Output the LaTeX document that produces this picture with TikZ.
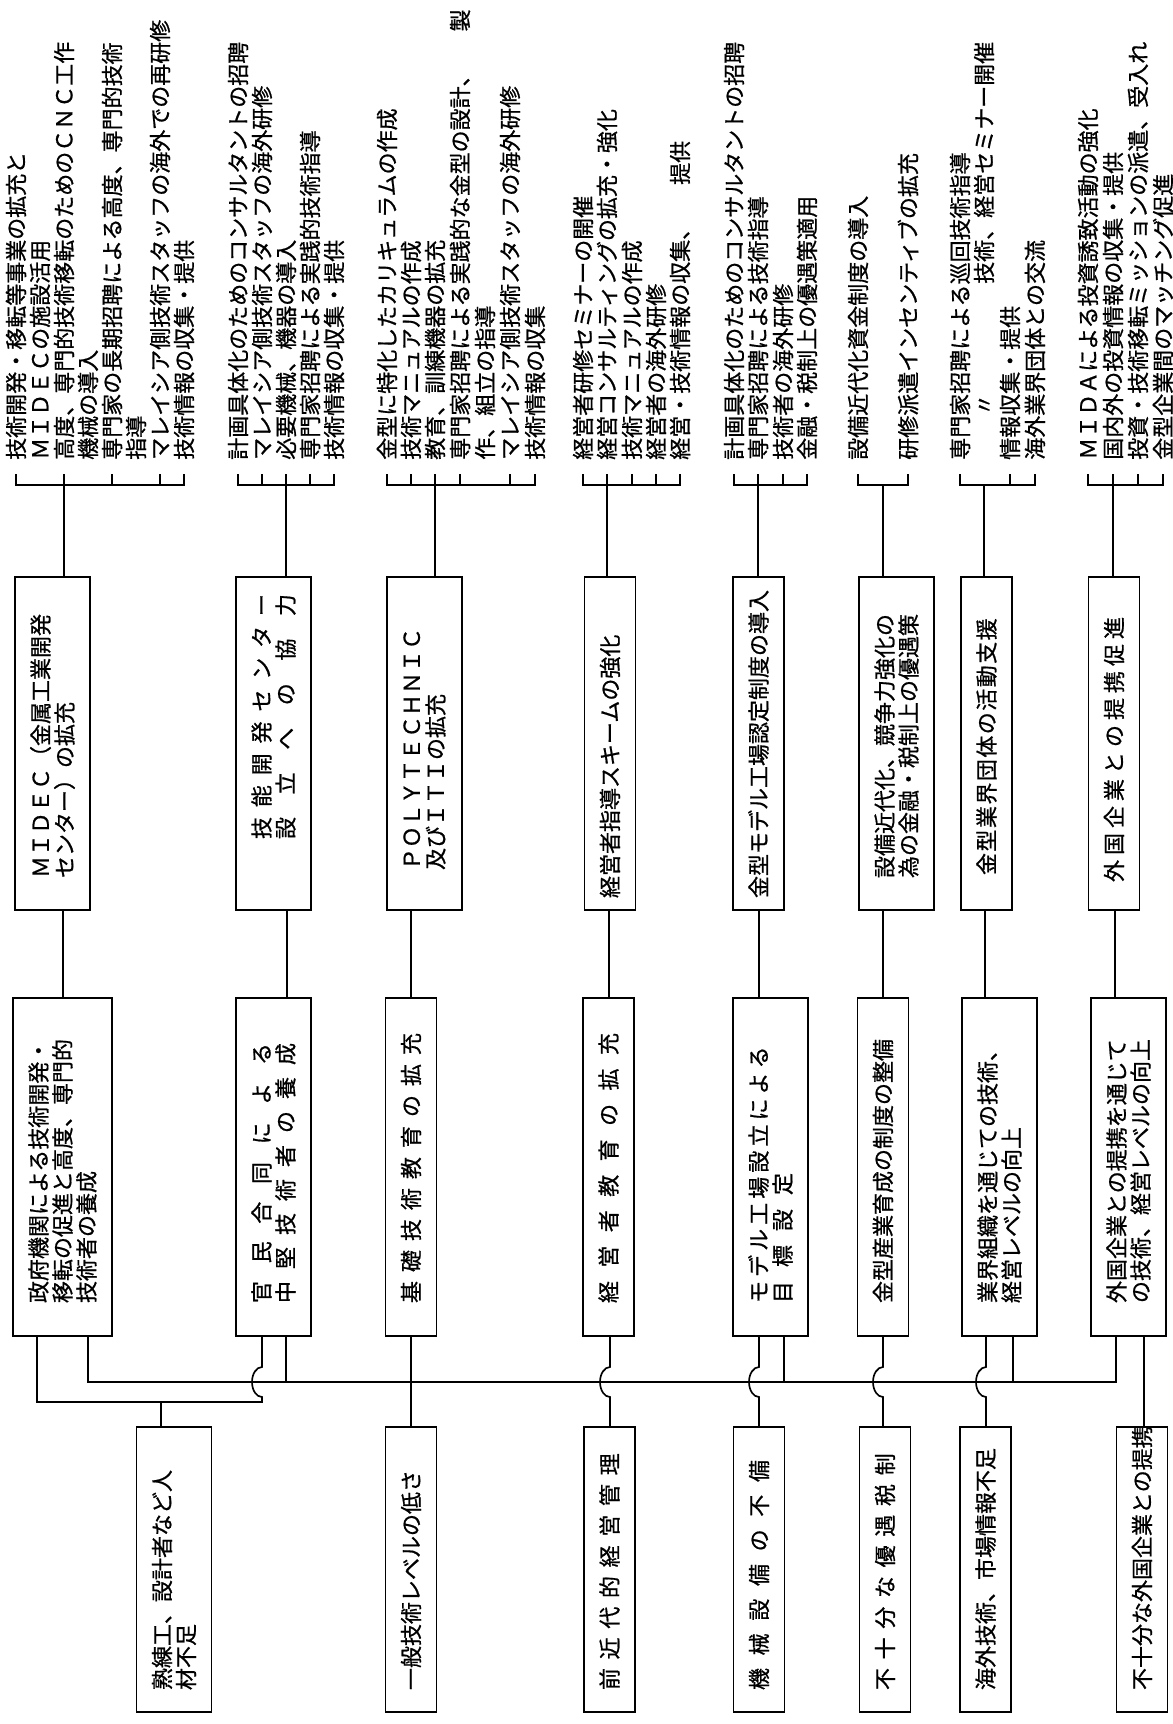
\documentclass[tikz,border=0pt]{standalone}
\usepackage{fontspec}
\setmainfont{Noto Sans CJK JP}[FakeBold=0.8]
\usetikzlibrary{calc}
\newcommand{\boxfont}{\fontsize{6.6mm}{7.2mm}\selectfont\lineskiplimit=-100mm\relax}
\newcommand{\spread}[2]{\makebox[#1][s]{\spaceskip=0pt plus 1fil\relax #2}}

\begin{document}
\begin{tikzpicture}[x=0.3mm, y=-0.3mm,
  box/.style={draw, line width=0.5mm, fill=white, rotate=90, align=left, inner ysep=0pt, font=\boxfont},
  tbox/.style={box, inner xsep=3.6mm, text width=92.7mm},
  mbox/.style={box, inner xsep=9.9mm, text width=81.6mm},
  pbox/.style={box, inner xsep=6.6mm, text width=72.3mm},
  one/.style={minimum height=15.3mm},
  two/.style={minimum height=22.5mm},
  three/.style={minimum height=29.7mm},
  itm/.style={rotate=90, anchor=west, inner sep=0pt, font=\boxfont},
  link/.style={line width=0.5mm},
]
\fill[white] (0,0) rectangle (1173,1724);
\useasboundingbox (0,0) rectangle (1173,1724);

% measures
\node[tbox, two] (T1) at (52.5,743.5) {\hspace*{6mm}ＭＩＤＥＣ（金属工業開発\\\hspace*{6mm}センター）の拡充};
\node[tbox, two] (T2) at (273.5,743.5) {\hspace*{17.7mm}\spread{73.5mm}{技 能 開 発 セ ン タ ー}\\\hspace*{17.7mm}\spread{73.5mm}{設 立 へ の 協 力}};
\node[tbox, two] (T3) at (424.5,743.5) {\hspace*{8.4mm}ＰＯＬＹＴＥＣＨＮＩＣ\\\hspace*{8.4mm}及びＩＴＩの拡充};
\node[tbox, one] (T4) at (610,743.5) {経営者指導スキームの強化};
\node[tbox, one] (T5) at (758.5,743.5) {金型モデル工場認定制度の導入};
\node[tbox, two] (T6) at (896.5,743.5) {\hspace*{6mm}設備近代化、競争力強化の\\\hspace*{6mm}為の金融・税制上の優遇策};
\node[tbox, one] (T7) at (986.5,743.5) {\hspace*{6.9mm}\spread{77mm}{金 型 業 界 団 体 の 活 動 支 援}};
\node[tbox, one] (T8) at (1114,743.5) {\hspace*{4.8mm}\spread{79.5mm}{外 国 企 業 と の 提 携 促 進}};

% objectives
\node[mbox, three] (M1) at (62.5,1167) {政府機関による技術開発・\\移転の促進と高度、専門的\\技術者の養成};
\node[mbox, two] (M2) at (273.5,1167) {\spread{78mm}{官 民 合 同 に よ る}\\\spread{78mm}{中 堅 技 術 者 の 養 成}};
\node[mbox, one] (M3) at (411,1167) {\spread{81mm}{基 礎 技 術 教 育 の 拡 充}};
\node[mbox, one] (M4) at (608.5,1167) {\spread{81mm}{経 営 者 教 育 の 拡 充}};
\node[mbox, two] (M5) at (770.5,1167) {\spread{77mm}{モ デ ル 工 場 設 立 に よ る}\\\spread{39mm}{目 標 設 定}};
\node[mbox, one] (M6) at (883,1167) {金型産業育成の制度の整備};
\node[mbox, two] (M7) at (999.5,1167) {業界組織を通じての技術、\\経営レベルの向上};
\node[mbox, two] (M8) at (1128.5,1167) {外国企業との提携を通じて\\の技術、経営レベルの向上};

% problems
\node[pbox, two] (P1) at (174,1569.5) {熟練工、設計者など人\\材不足};
\node[pbox, one] (P2) at (411,1569.5) {一般技術レベルの低さ};
\node[pbox, one] (P3) at (609.5,1569.5) {\spread{71mm}{前 近 代 的 経 営 管 理}};
\node[pbox, one] (P4) at (759,1569.5) {\spread{69mm}{機 械 設 備 の 不 備}};
\node[pbox, one] (P5) at (885,1569.5) {\spread{71mm}{不 十 分 な 優 遇 税 制}};
\node[pbox, one] (P6) at (985.5,1569.5) {海外技術、市場情報不足};
\node[pbox, one] (P7) at (1142,1569.5) {不十分な外国企業との提携};

% action lists
\foreach \n/\x/\t in {a/16/{技術開発・移転等事業の拡充と}, b/40/{ＭＩＤＥＣの施設活用}, c/64/{高度、専門的技術移転のためのＣＮＣ工作}, d/88/{機械の導入}, e/112/{専門家の長期招聘による高度、専門的技術}, f/136/{指導}, g/160/{マレイシア側技術スタッフの海外での再研修}, h/184/{技術情報の収集・提供}}
  \node[itm] (l1\n) at (\x,460) {\t};
\foreach \n/\x/\t in {a/238/{計画具体化のためのコンサルタントの招聘}, b/262/{マレイシア側技術スタッフの海外研修}, c/286/{必要機械、機器の導入}, d/310/{専門家招聘による実践的技術指導}, e/334/{技術情報の収集・提供}}
  \node[itm] (l2\n) at (\x,460) {\t};
\foreach \n/\x/\t in {a/387/{金型に特化したカリキュラムの作成}, b/411/{技術マニュアルの作成}, c/435/{教育、訓練機器の拡充}, d/460/{専門家招聘による実践的な金型の設計、\hspace*{1.5em}製}, e/485/{作、組立の指導}, f/510/{マレイシア側技術スタッフの海外研修}, g/535/{技術情報の収集}}
  \node[itm] (l3\n) at (\x,460) {\t};
\foreach \n/\x/\t in {a/583/{経営者研修セミナーの開催}, b/607/{経営コンサルティングの拡充・強化}, c/632/{技術マニュアルの作成}, d/656/{経営者の海外研修}, e/680/{経営・技術情報の収集、\hspace*{1.5em}提供}}
  \node[itm] (l4\n) at (\x,460) {\t};
\foreach \n/\x/\t in {a/734/{計画具体化のためのコンサルタントの招聘}, b/758/{専門家招聘による技術指導}, c/783/{技術者の海外研修}, d/807/{金融・税制上の優遇策適用}}
  \node[itm] (l5\n) at (\x,460) {\t};
\foreach \n/\x/\t in {a/858/{設備近代化資金制度の導入}, b/908/{研修派遣インセンティブの拡充}}
  \node[itm] (l6\n) at (\x,460) {\t};
\foreach \n/\x/\t in {a/960/{専門家招聘による巡回技術指導}, b/984/{\hspace*{2em}〃\hspace*{5em}技術、経営セミナー開催}, c/1010/{情報収集・提供}, d/1035/{海外業界団体との交流}}
  \node[itm] (l7\n) at (\x,460) {\t};
\foreach \n/\x/\t in {a/1088/{ＭＩＤＡによる投資誘致活動の強化}, b/1113/{国内外の投資情報の収集・提供}, c/1138/{投資・技術移転ミッションの派遣、受入れ}, d/1163/{金型企業間のマッチング促進}}
  \node[itm] (l8\n) at (\x,460) {\t};

% brackets
\foreach \l/\f/\e/\mid in {1/a/h/{c,e,g}, 2/a/e/{b,c,d}, 3/a/g/{b,c,d,f}, 4/a/e/{b,c,d}, 5/a/d/{b,c}, 7/a/d/{c}, 8/a/d/{b,c}} {
  \draw[link] (l\l\f.west |- 0,474) |- (l\l\e.west |- 0,485) -- (l\l\e.west |- 0,474);
  \foreach \n in \mid
    \draw[link] (l\l\n.west |- 0,474) -- (l\l\n.west |- 0,485);
}
\draw[link] (l6a.west |- 0,474) |- (l6b.west |- 0,485) -- (l6b.west |- 0,474);
\coordinate (c6) at ($(l6a.west)!.5!(l6b.west)$);

% lists to measures
\draw[link] (l1c.west |- 0,485) -- (l1c.west |- T1.east);
\draw[link] (l2c.west |- 0,485) -- (l2c.west |- T2.east);
\draw[link] (l3c.west |- 0,485) -- (l3c.west |- T3.east);
\draw[link] (l4b.west |- 0,485) -- (l4b.west |- T4.east);
\draw[link] (l5b.west |- 0,485) -- (l5b.west |- T5.east);
\draw[link] (c6 |- 0,485) -- (c6 |- T6.east);
\draw[link] (l7b.west |- 0,485) -- (l7b.west |- T7.east);
\draw[link] (l8b.west |- 0,485) -- (l8b.west |- T8.east);

% measures to objectives
\foreach \i/\x in {1/63, 2/287, 3/411, 4/609, 5/759, 6/883, 7/985, 8/1115}
  \draw[link] (\x,0 |- T\i.west) -- (\x,0 |- M\i.east);

% objectives to problems
\draw[link] (37,0 |- M1.west) |- (262,1402) -- (262,1397)
  arc[start angle=270, end angle=90, x radius=3mm, y radius=4.5mm] -- (262,0 |- M2.west);
\draw[link] (161,1402) -- (161,0 |- P1.east);
\draw[link] (88,0 |- M1.west) |- (1116,1382) -- (1116,0 |- M8.west);
\draw[link] (286,0 |- M2.west) -- (286,1382);
\draw[link] (411,0 |- M3.west) -- (411,0 |- P2.east);
\foreach \x/\m/\p in {610/4/3, 759/5/4, 883/6/5, 986/7/6}
  \draw[link] (\x,0 |- M\m.west) -- (\x,1367)
    arc[start angle=90, end angle=270, x radius=3mm, y radius=4.5mm] -- (\x,0 |- P\p.east);
\draw[link] (784,0 |- M5.west) -- (784,1382);
\draw[link] (1013,0 |- M7.west) -- (1013,1382);
\draw[link] (1144,0 |- M8.west) -- (1144,0 |- P7.east);
\end{tikzpicture}
\end{document}
